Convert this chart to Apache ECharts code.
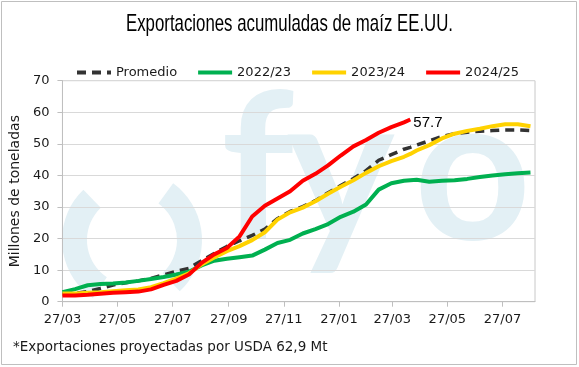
<!DOCTYPE html>
<html>
<head>
<meta charset="utf-8">
<script src="https://cdn.jsdelivr.net/npm/echarts@6/dist/echarts.min.js"></script>
<style>
html,body{margin:0;padding:0;background:#fff;}
#c{width:579px;height:367px;}
</style>
</head>
<body>
<div id="c"></div>
<script>
// ---- data ----
const titleText = 'Exportaciones acumuladas de maíz EE.UU.';
const footnoteText = '*Exportaciones proyectadas por USDA 62,9 Mt';
const dates = ['2024-03-27','2024-04-10','2024-04-24','2024-05-08','2024-05-22','2024-06-05','2024-06-19','2024-07-03','2024-07-17','2024-07-31','2024-08-14','2024-08-28','2024-09-11','2024-09-25','2024-10-09','2024-10-23','2024-11-06','2024-11-20','2024-12-04','2024-12-18','2025-01-01','2025-01-15','2025-01-29','2025-02-12','2025-02-26','2025-03-12','2025-03-26','2025-04-09','2025-04-16','2025-04-23','2025-05-07','2025-05-21','2025-06-04','2025-06-18','2025-07-02','2025-07-16','2025-07-30','2025-08-13','2025-08-27','2025-09-01'];
const promedio = [2.4,2.7,3.2,4.2,5.3,6.0,6.6,7.4,8.5,9.6,10.6,13.0,15.3,17.5,19.3,21.0,23.0,26.3,28.6,30.1,32.0,34.5,36.8,39.0,41.5,44.8,46.6,48.3,48.9,49.6,51.0,52.3,53.2,53.7,54.0,54.2,54.4,54.4,54.2,53.8];
const s2223 = [3.0,4.0,5.2,5.6,5.8,6.1,6.6,7.2,7.8,8.6,9.5,11.5,13.0,13.6,14.1,14.6,16.5,18.6,19.6,21.6,23.0,24.6,26.9,28.5,30.8,35.5,37.5,38.3,38.5,38.6,38.0,38.3,38.5,38.9,39.5,40.0,40.4,40.7,40.9,null];
const s2324 = [2.6,2.6,2.8,3.0,3.3,3.6,3.9,4.6,5.9,7.3,9.0,11.8,14.0,16.0,17.6,19.5,22.0,26.0,28.3,29.8,31.8,34.2,36.4,38.5,40.8,42.9,44.5,45.9,46.8,47.9,49.6,51.7,53.2,54.1,54.8,55.6,56.2,56.2,55.6,null];
const s2425 = [2.0,2.0,2.2,2.5,2.8,3.0,3.2,3.9,5.3,6.6,8.6,12.3,15.0,17.0,20.7,27.0,30.4,32.7,35.0,38.3,40.5,43.2,46.3,49.2,51.2,53.5,55.3,56.8,57.7];
const seriesNames = ['Promedio','2022/23','2023/24','2024/25'];
const tickDates = ['2024-03-27','2024-05-27','2024-07-27','2024-09-27','2024-11-27','2025-01-27','2025-03-27','2025-05-27','2025-07-27'];
const tickLabels = ['27/03','27/05','27/07','27/09','27/11','27/01','27/03','27/05','27/07'];
const xMin = '2024-03-27', xMax = '2025-09-01';

function ts(s){const p=s.split('-').map(Number);return Date.UTC(p[0],p[1]-1,p[2]);}
function pairs(vals){const out=[];vals.forEach((v,i)=>{if(v!==null&&v!==undefined)out.push([ts(dates[i]),v]);});return out;}
const tickTs = tickDates.map(ts);

// condensed title: scale a regular sans horizontally
const titleFont = '24px "Liberation Sans"';
const mctx = document.createElement('canvas').getContext('2d');
mctx.font = titleFont;
const titleScale = 327 / mctx.measureText(titleText).width;

const chart = echarts.init(document.getElementById('c'), null, {renderer:'canvas'});
const wm = '#e3f0f5';
const wmFont = 'bold 204px Lato';
const option = {
  animation:false,
  backgroundColor:'#fff',
  legend:{top:61,left:70,itemWidth:34,itemHeight:14,itemGap:19,
    itemStyle:{opacity:0},
    lineStyle:{width:4},
    textStyle:{fontFamily:'DejaVu Sans',fontSize:13,color:'#1a1a1a'},
    data:seriesNames},
  grid:{left:61.5,right:44,top:80.7,bottom:65.3,show:true,borderColor:'#c8c8c8',borderWidth:1},
  graphic:[
    {type:'sector',z:-10,shape:{cx:132,cy:240,r0:45,r:70,startAngle:124*Math.PI/180,endAngle:226*Math.PI/180},style:{fill:wm}},
    {type:'sector',z:-10,shape:{cx:132,cy:240,r0:45,r:70,startAngle:-54*Math.PI/180,endAngle:47*Math.PI/180},style:{fill:wm}},
    {type:'text',z:-10,x:221,y:173,style:{text:'f',fill:wm,font:wmFont,textAlign:'left',textVerticalAlign:'middle'}},
    {type:'text',z:-10,x:287,y:173,style:{text:'y',fill:wm,font:wmFont,textAlign:'left',textVerticalAlign:'middle'}},
    {type:'text',z:-10,x:414,y:173,style:{text:'o',fill:wm,font:wmFont,textAlign:'left',textVerticalAlign:'middle'}},
    {type:'rect',z:-9,shape:{x:536,y:78,width:38,height:226},style:{fill:'#fff'}},
    {type:'rect',z:100,shape:{x:1.5,y:1.5,width:575,height:363},style:{fill:'none',stroke:'#bfbfbf',lineWidth:1}},
    {type:'text',x:289.5,y:24,scaleX:titleScale,style:{text:titleText,fill:'#000',font:titleFont,textAlign:'center',textVerticalAlign:'middle'}},
    {type:'text',left:13,top:340,style:{text:footnoteText,fill:'#1a1a1a',font:'13.5px "DejaVu Sans"'}}
  ],
  xAxis:{type:'value',min:ts(xMin),max:ts(xMax),
    axisLine:{show:true,onZero:false,lineStyle:{color:'#bfbfbf'}},
    axisTick:{show:true,length:5,lineStyle:{color:'#bfbfbf'},customValues:tickTs},
    axisLabel:{color:'#1a1a1a',fontFamily:'DejaVu Sans',fontSize:13,margin:11,customValues:tickTs,
      formatter:function(v){const i=tickTs.indexOf(v);return i>=0?tickLabels[i]:'';}},
    splitLine:{show:false}},
  yAxis:{type:'value',min:0,max:70,interval:10,
    name:'Millones de toneladas',nameLocation:'middle',nameGap:36,
    nameTextStyle:{fontFamily:'DejaVu Sans',fontSize:14,color:'#1a1a1a'},
    axisLine:{show:true,lineStyle:{color:'#bfbfbf'}},
    axisTick:{show:true,length:5,lineStyle:{color:'#bfbfbf'}},
    axisLabel:{color:'#1a1a1a',fontFamily:'DejaVu Sans',fontSize:13,margin:13},
    splitLine:{lineStyle:{color:'#d9d9d9',width:1}}},
  series:[
    {name:seriesNames[0],type:'line',symbol:'none',data:pairs(promedio),
      lineStyle:{color:'#333333',width:3.5,type:[9,6]},itemStyle:{color:'#333333'}},
    {name:seriesNames[1],type:'line',symbol:'none',data:pairs(s2223),
      lineStyle:{color:'#00b050',width:4},itemStyle:{color:'#00b050'}},
    {name:seriesNames[2],type:'line',symbol:'none',data:pairs(s2324),
      lineStyle:{color:'#ffd200',width:4},itemStyle:{color:'#ffd200'}},
    {name:seriesNames[3],type:'line',symbol:'none',data:pairs(s2425),
      lineStyle:{color:'#ff0000',width:4},itemStyle:{color:'#ff0000'},
      endLabel:{show:true,distance:3,formatter:function(p){return p.value[1].toFixed(1);},
        fontFamily:'"Liberation Sans"',fontSize:15,color:'#000',offset:[0,3]}}
  ]
};
chart.setOption(option);
</script>
</body>
</html>
